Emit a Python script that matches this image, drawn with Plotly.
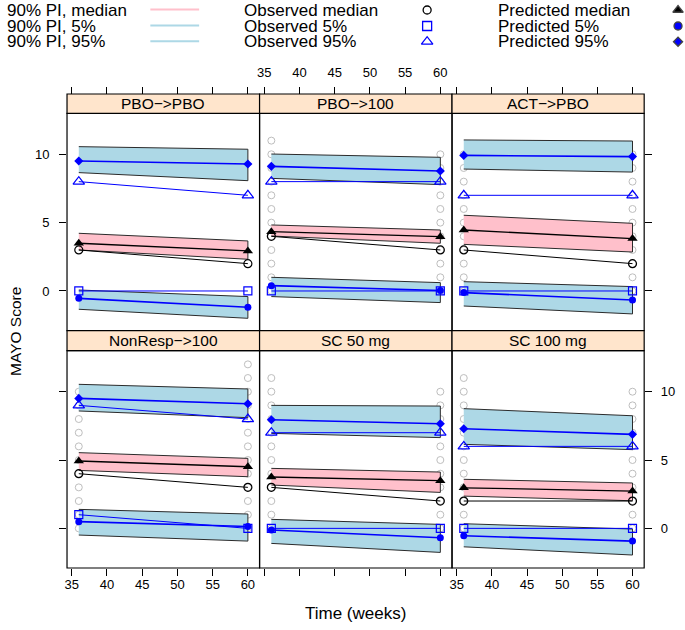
import plotly.graph_objects as go

OX, OY = 0, 0
W, H = 685, 630
FONT = "Liberation Sans, Arial, sans-serif"

# ---------------- data ----------------
panel_names = ["PBO\u2212>PBO", "PBO\u2212>100", "ACT\u2212>PBO",
               "NonResp\u2212>100", "SC 50 mg", "SC 100 mg"]
times = [36, 60]
x_ticks = [35, 40, 45, 50, 55, 60]
y_ticks = [0, 5, 10]

# 90% prediction intervals (lower / upper edge at week 36, week 60)
pi95_lo = [[8.66, 8.07], [8.24, 7.78], [8.92, 8.70], [8.59, 8.10], [6.95, 6.64], [6.15, 5.76]]
pi95_hi = [[10.56, 10.37], [10.02, 9.78], [11.05, 10.97], [10.54, 10.20], [9.00, 8.95], [8.76, 8.24]]
pimed_lo = [[3.00, 2.32], [4.02, 3.49], [3.41, 2.85], [4.24, 3.78], [3.17, 2.63], [2.36, 2.02]]
pimed_hi = [[4.22, 3.66], [4.83, 4.46], [5.54, 4.95], [5.54, 5.12], [4.39, 4.12], [3.59, 3.32]]
pi5_lo = [[-1.34, -2.00], [-0.41, -0.85], [-1.10, -1.68], [-0.49, -0.93], [-1.10, -1.76], [-1.35, -1.95]]
pi5_hi = [[0.07, -0.41], [1.00, 0.61], [0.68, 0.32], [1.39, 1.05], [0.66, 0.29], [0.34, -0.05]]

# predicted percentiles
pred_med = [[3.49, 2.93], [4.34, 3.97], [4.46, 3.83], [4.93, 4.51], [3.76, 3.49], [2.97, 2.73]]
pred_5 = [[-0.54, -1.19], [0.39, 0.03], [-0.12, -0.66], [0.49, 0.14], [-0.12, -0.69], [-0.54, -0.93]]
pred_95 = [[9.51, 9.29], [9.12, 8.78], [9.92, 9.83], [9.51, 9.12], [7.95, 7.66], [7.29, 6.88]]

# observed percentiles
obs_med = [[3, 2], [4, 3], [3, 2], [4, 3], [3, 2], [2, 2]]
obs_5 = [[0, 0], [0, 0], [0, 0], [1, 0], [0, 0], [0, 0]]
obs_95 = [[8, 7], [8, 8], [7, 7], [9, 8], [7, 7], [6, 6]]

# observed individual scores (grey circles)
scores_36 = [[], list(range(0, 12)), list(range(0, 11)), list(range(0, 11)),
             list(range(0, 12)), list(range(0, 12))]
scores_60 = [[], list(range(0, 11)), list(range(0, 11)), list(range(0, 13)),
             list(range(0, 11)), list(range(0, 11))]

legend_col1 = ["90% PI, median", "90% PI, 5%", "90% PI, 95%"]
legend_col2 = ["Observed median", "Observed 5%", "Observed 95%"]
legend_col3 = ["Predicted median", "Predicted 5%", "Predicted 95%"]

# ---------------- layout geometry (page pixels) ----------------
XR = [34.33, 61.66]
YR = [-2.9, 13.0]
col_px = [(64.3, 257.7), (257.7, 451.0), (451.0, 644.0)]
row_px = [(113.3, 330.6), (350.7, 568.0)]      # panel top, bottom
strip_px = [(94.0, 113.3), (330.6, 350.7)]


def fx(px):
    return (px - OX) / W


def fy(py):
    return (H - (py - OY)) / H


BLUE = "#0000FF"
LBLUE = "#ADD8E6"
PINK = "#FFC0CB"
GREY = "#BEBEBE"
EDGE = "#2b2b2b"

fig = go.Figure()
layout = dict(
    width=W, height=H, margin=dict(l=0, r=0, t=0, b=0),
    plot_bgcolor="white", paper_bgcolor="white", showlegend=False,
    font=dict(family=FONT, size=13, color="black"),
)
shapes = []
annotations = []

for i in range(6):
    r, c = divmod(i, 3)
    sfx = "" if i == 0 else str(i + 1)
    xa, ya = "x" + sfx, "y" + sfx

    # grey individual observations
    gx = [times[0]] * len(scores_36[i]) + [times[1]] * len(scores_60[i])
    gy = scores_36[i] + scores_60[i]
    if gy:
        fig.add_trace(go.Scatter(x=gx, y=gy, mode="markers", xaxis=xa, yaxis=ya,
                                 marker=dict(symbol="circle-open", size=7, color=GREY,
                                             line=dict(width=1)), hoverinfo="skip"))
    # prediction interval bands
    for lo, hi, colr in [(pi5_lo, pi5_hi, LBLUE), (pimed_lo, pimed_hi, PINK),
                         (pi95_lo, pi95_hi, LBLUE)]:
        fig.add_trace(go.Scatter(x=times + times[::-1], y=lo[i] + hi[i][::-1],
                                 fill="toself", fillcolor=colr, mode="lines",
                                 line=dict(color=EDGE, width=1), xaxis=xa, yaxis=ya,
                                 hoverinfo="skip"))
    # observed
    fig.add_trace(go.Scatter(x=times, y=obs_med[i], mode="lines+markers", xaxis=xa, yaxis=ya,
                             line=dict(color="black", width=1),
                             marker=dict(symbol="circle-open", size=8, color="black",
                                         line=dict(width=1.2))))
    fig.add_trace(go.Scatter(x=times, y=obs_5[i], mode="lines+markers", xaxis=xa, yaxis=ya,
                             line=dict(color=BLUE, width=1),
                             marker=dict(symbol="square-open", size=8, color=BLUE,
                                         line=dict(width=1.2))))
    fig.add_trace(go.Scatter(x=times, y=obs_95[i], mode="lines+markers", xaxis=xa, yaxis=ya,
                             line=dict(color=BLUE, width=1),
                             marker=dict(symbol="triangle-up-open", size=10, color=BLUE,
                                         line=dict(width=1.2))))
    # predicted
    fig.add_trace(go.Scatter(x=times, y=pred_med[i], mode="lines+markers", xaxis=xa, yaxis=ya,
                             line=dict(color="black", width=1.3),
                             marker=dict(symbol="triangle-up", size=9, color="black")))
    fig.add_trace(go.Scatter(x=times, y=pred_5[i], mode="lines+markers", xaxis=xa, yaxis=ya,
                             line=dict(color=BLUE, width=1.6),
                             marker=dict(symbol="circle", size=7, color=BLUE)))
    fig.add_trace(go.Scatter(x=times, y=pred_95[i], mode="lines+markers", xaxis=xa, yaxis=ya,
                             line=dict(color=BLUE, width=1.6),
                             marker=dict(symbol="diamond", size=7, color=BLUE)))

    # axes
    xdict = dict(domain=[fx(col_px[c][0]), fx(col_px[c][1])], range=XR, anchor=ya,
                 showgrid=False, zeroline=False, showline=False, tickvals=x_ticks,
                 ticks="outside", ticklen=7, tickcolor="black", tickwidth=1,
                 tickfont=dict(size=13, family=FONT, color="black"))
    if r == 0:
        xdict.update(side="top", anchor="free", position=fy(strip_px[0][0]),
                     showticklabels=(c == 1), ticklabelstandoff=5)
    else:
        xdict.update(side="bottom", showticklabels=(c != 1), ticklabelstandoff=-3)
    ydict = dict(domain=[fy(row_px[r][1]), fy(row_px[r][0])], range=YR, anchor=xa,
                 showgrid=False, zeroline=False, showline=False, tickvals=y_ticks,
                 ticklen=7, tickcolor="black", tickwidth=1,
                 tickfont=dict(size=13, family=FONT, color="black"))
    if c == 0:
        ydict.update(side="left", ticks="outside", showticklabels=(r == 0),
                     ticklabelstandoff=7)
    elif c == 2:
        ydict.update(side="right", ticks="outside", showticklabels=(r == 1),
                     ticklabelstandoff=6)
    else:
        ydict.update(ticks="", showticklabels=False)
    layout["xaxis" + sfx] = xdict
    layout["yaxis" + sfx] = ydict

    # panel frame
    shapes.append(dict(type="rect", xref="paper", yref="paper",
                       x0=fx(col_px[c][0]), x1=fx(col_px[c][1]),
                       y0=fy(row_px[r][1]), y1=fy(row_px[r][0]),
                       line=dict(color="black", width=1.2), fillcolor="rgba(0,0,0,0)"))
    # strip
    shapes.append(dict(type="rect", xref="paper", yref="paper",
                       x0=fx(col_px[c][0]), x1=fx(col_px[c][1]),
                       y0=fy(strip_px[r][1]), y1=fy(strip_px[r][0]),
                       line=dict(color="black", width=1.2), fillcolor="#FFE5CC"))
    annotations.append(dict(xref="paper", yref="paper", showarrow=False,
                            x=fx((col_px[c][0] + col_px[c][1]) / 2),
                            y=fy((strip_px[r][0] + strip_px[r][1]) / 2),
                            text=panel_names[i], xanchor="center", yanchor="middle",
                            font=dict(size=15.5, family=FONT, color="black")))

# axis titles
annotations.append(dict(xref="paper", yref="paper", showarrow=False,
                        x=fx(354), y=fy(613), text="Time (weeks)",
                        xanchor="center", yanchor="middle",
                        font=dict(size=17, family=FONT, color="black")))
annotations.append(dict(xref="paper", yref="paper", showarrow=False,
                        x=fx(12), y=fy(331), text="MAYO Score", textangle=-90,
                        xanchor="center", yanchor="middle",
                        font=dict(size=15.5, family=FONT, color="black")))

# ---------------- key (top) ----------------
LH = 52
layout["xaxis7"] = dict(domain=[0, 1], range=[OX, OX + W], anchor="y7", visible=False,
                        fixedrange=True)
layout["yaxis7"] = dict(domain=[fy(LH), 1], range=[LH, OY], anchor="x7", visible=False,
                        fixedrange=True)
row_y = [10, 26, 41.7]
for k in range(3):
    for txt, x0 in [(legend_col1[k], 3), (legend_col2[k], 241), (legend_col3[k], 496)]:
        annotations.append(dict(xref="x7", yref="y7", showarrow=False, x=x0, y=row_y[k],
                                text=txt, xanchor="left", yanchor="middle", borderpad=0,
                                font=dict(size=17, family=FONT, color="black")))
for k, colr in enumerate([PINK, LBLUE, LBLUE]):
    shapes.append(dict(type="line", xref="x7", yref="y7", x0=148, x1=197,
                       y0=row_y[k] - 0.5, y1=row_y[k] - 0.5, line=dict(color=colr, width=2)))
key_syms = [("circle-open", "black", 8, 426), ("square-open", BLUE, 9, 426),
            ("triangle-up-open", BLUE, 10, 426),
            ("triangle-up", "black", 9, 678), ("circle", BLUE, 8, 678), ("diamond", BLUE, 7, 678)]
for j, (sym, colr, sz, kx) in enumerate(key_syms):
    fig.add_trace(go.Scatter(x=[kx], y=[row_y[j % 3]], mode="markers", xaxis="x7", yaxis="y7",
                             cliponaxis=False,
                             marker=dict(symbol=sym, size=sz, color=colr, line=dict(width=1.3)),
                             hoverinfo="skip"))

layout["shapes"] = shapes
layout["annotations"] = annotations
fig.update_layout(**layout)
fig.write_html("out.html", config={"displayModeBar": False, "staticPlot": True},
               post_script="document.body.style.margin='0px';document.body.style.overflow='hidden';")
